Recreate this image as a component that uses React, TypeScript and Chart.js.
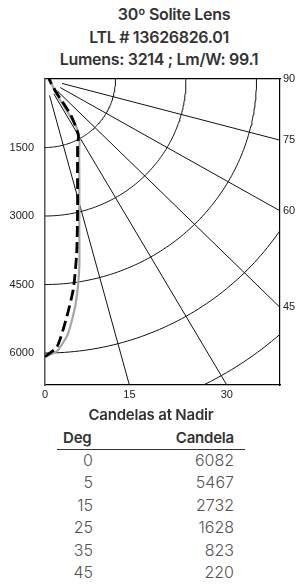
import React, { useEffect, useRef } from "react";
import { Chart, registerables } from "chart.js";

Chart.register(...registerables);

// ---- data ----
const TITLE_LINES = ["30º Solite Lens", "LTL # 13626826.01", "Lumens: 3214 ; Lm/W: 99.1"];

const CURVE_ANGLES = [0, 2.5, 5, 7.5, 10, 12.5, 15, 17.5, 20, 22.5, 25, 27.5, 30, 32.5, 35, 37.5, 40, 45, 50, 55, 60, 70, 80, 90];
const BLACK_CD = [6082, 5870, 5250, 4630, 3880, 3190, 2680, 2300, 2020, 1810, 1640, 1530, 1420, 1190, 940, 510, 350, 250, 200, 160, 135, 115, 100, 70];
const GRAY_CD = [6082, 5960, 5600, 4980, 4200, 3370, 2820, 2430, 2130, 1900, 1720, 1590, 1450, 1230, 560, 350, 300, 240, 195, 160, 135, 115, 100, 70];

const ARC_RADII = [1500, 3000, 4500, 6000, 7500, 9000];
const RADIAL_ANGLES = [15, 30, 45, 60, 75];
const RADIAL_START = 375;
const RADIAL_END = 12000;

const Y_TICKS = [1500, 3000, 4500, 6000];
const BOTTOM_ANGLE_TICKS = [0, 15, 30];
const RIGHT_ANGLE_TICKS = [90, 75, 60, 45];

const X_MAX = 5000;
const Y_MAX = 6700;

const TABLE_TITLE = "Candelas at Nadir";
const TABLE_HEAD = ["Deg", "Candela"];
const TABLE_DEG = [0, 5, 15, 25, 35, 45];
const TABLE_CD = [6082, 5467, 2732, 1628, 823, 220];

const rad = (d: number) => (d * Math.PI) / 180;
const toXY = (deg: number, cd: number) => ({ x: cd * Math.sin(rad(deg)), y: cd * Math.cos(rad(deg)) });

const AXIS_FONT = { family: "'Liberation Sans', Arial, sans-serif", size: 11 };

function PolarChart() {
  const ref = useRef<HTMLCanvasElement | null>(null);
  useEffect(() => {
    if (!ref.current) return;
    const gridLine = { showLine: true, pointRadius: 0, borderColor: "#111", borderWidth: 1, tension: 0, fill: false };
    const arcDatasets = ARC_RADII.map((r) => ({
      ...gridLine,
      data: Array.from({ length: 91 }, (_, i) => toXY(i, r)),
    }));
    const radialDatasets = RADIAL_ANGLES.map((a) => ({
      ...gridLine,
      data: [toXY(a, RADIAL_START), toXY(a, RADIAL_END)],
    }));
    const black = {
      showLine: true,
      pointRadius: 0,
      borderColor: "#000",
      borderWidth: 2.8,
      borderDash: [11, 5],
      tension: 0.2,
      fill: false,
      data: CURVE_ANGLES.map((a, i) => toXY(a, BLACK_CD[i])),
    };
    const gray = {
      showLine: true,
      pointRadius: 0,
      borderColor: "#a6a6a6",
      borderWidth: 2.2,
      tension: 0.2,
      fill: false,
      data: CURVE_ANGLES.map((a, i) => toXY(a, GRAY_CD[i])),
    };
    const chart = new Chart(ref.current, {
      type: "scatter",
      data: { datasets: [black, gray, ...radialDatasets, ...arcDatasets] as any },
      options: {
        animation: false,
        responsive: false,
        devicePixelRatio: 1,
        events: [],
        layout: { padding: 0 },
        plugins: { legend: { display: false }, tooltip: { enabled: false } },
        scales: {
          x: {
            type: "linear",
            position: "bottom",
            min: 0,
            max: X_MAX,
            grid: { display: false, drawTicks: false },
            border: { display: true, color: "#000", width: 1.2 },
            afterBuildTicks: (s: any) => {
              s.ticks = BOTTOM_ANGLE_TICKS.map((a) => ({ value: Y_MAX * Math.tan(rad(a)) }));
            },
            afterFit: (s: any) => {
              s.height = 25;
            },
            ticks: {
              autoSkip: false,
              maxRotation: 0,
              padding: 3,
              color: "#222",
              font: AXIS_FONT,
              callback: (_v: any, i: number) => String(BOTTOM_ANGLE_TICKS[i]),
            },
          },
          xTop: {
            type: "linear",
            position: "top",
            min: 0,
            max: X_MAX,
            grid: { display: false, drawTicks: false },
            border: { display: true, color: "#000", width: 1.2 },
            ticks: { display: false },
            afterFit: (s: any) => {
              s.height = 79;
            },
          },
          y: {
            type: "linear",
            position: "left",
            reverse: true,
            min: 0,
            max: Y_MAX,
            grid: { display: false, drawTicks: false },
            border: { display: true, color: "#555", width: 1.5 },
            afterBuildTicks: (s: any) => {
              s.ticks = Y_TICKS.map((v) => ({ value: v }));
            },
            afterFit: (s: any) => {
              s.width = 45;
            },
            ticks: {
              autoSkip: false,
              padding: 11,
              color: "#222",
              font: AXIS_FONT,
              callback: (v: any) => String(v),
            },
          },
          yRight: {
            type: "linear",
            position: "right",
            reverse: true,
            min: 0,
            max: Y_MAX,
            grid: { display: false, drawTicks: false },
            border: { display: true, color: "#000", width: 1.2 },
            afterBuildTicks: (s: any) => {
              s.ticks = RIGHT_ANGLE_TICKS.map((a) => ({ value: (X_MAX * Math.cos(rad(a))) / Math.sin(rad(a)) }));
            },
            afterFit: (s: any) => {
              s.width = 17;
            },
            ticks: {
              autoSkip: false,
              padding: 3,
              color: "#222",
              font: AXIS_FONT,
              callback: (_v: any, i: number) => String(RIGHT_ANGLE_TICKS[i]),
            },
          },
        },
      } as any,
    });
    return () => chart.destroy();
  }, []);
  return <canvas ref={ref} width={297} height={410} style={{ position: "absolute", left: 0, top: 0, width: 297, height: 410 }} />;
}

const TITLE_CENTERS_X = [174, 159, 159];
const TITLE_CENTERS_Y = [14, 36.7, 59.3];
const ROW_Y0 = 460;
const ROW_STEP = 22.4;

export default function App() {
  const font = "Inter, 'Noto Sans', sans-serif";
  return (
    <div style={{ position: "absolute", left: 0, top: 0, width: 297, height: 586, background: "#fff", overflow: "hidden", fontFamily: font }}>
      {TITLE_LINES.map((t, i) => (
        <div
          key={i}
          style={{
            position: "absolute",
            left: TITLE_CENTERS_X[i] - 150,
            width: 300,
            top: TITLE_CENTERS_Y[i] - 11,
            lineHeight: "22px",
            fontSize: 16,
            fontWeight: 600,
            color: "#333",
            textAlign: "center",
            letterSpacing: -0.3,
            whiteSpace: "nowrap",
          }}
        >
          {t}
        </div>
      ))}
      <PolarChart />
      <div style={{ position: "absolute", left: 1, width: 300, top: 405, lineHeight: "20px", fontSize: 15, fontWeight: 600, color: "#333", textAlign: "center", letterSpacing: -0.2 }}>
        {TABLE_TITLE}
      </div>
      <div style={{ position: "absolute", left: 63, top: 428, lineHeight: "20px", fontSize: 15, fontWeight: 600, color: "#333", letterSpacing: -0.2 }}>{TABLE_HEAD[0]}</div>
      <div style={{ position: "absolute", right: 297 - 234, top: 428, lineHeight: "20px", fontSize: 15, fontWeight: 600, color: "#333", letterSpacing: -0.2, textAlign: "right" }}>{TABLE_HEAD[1]}</div>
      <div style={{ position: "absolute", left: 57, width: 188, top: 449, height: 1, background: "#333" }} />
      {TABLE_DEG.map((d, i) => (
        <React.Fragment key={i}>
          <div style={{ position: "absolute", right: 297 - 93, top: ROW_Y0 + i * ROW_STEP - 10, lineHeight: "20px", fontSize: 16, fontWeight: 300, color: "#555", textAlign: "right" }}>{d}</div>
          <div style={{ position: "absolute", right: 297 - 234, top: ROW_Y0 + i * ROW_STEP - 10, lineHeight: "20px", fontSize: 16, fontWeight: 300, color: "#555", textAlign: "right" }}>{TABLE_CD[i]}</div>
        </React.Fragment>
      ))}
    </div>
  );
}
